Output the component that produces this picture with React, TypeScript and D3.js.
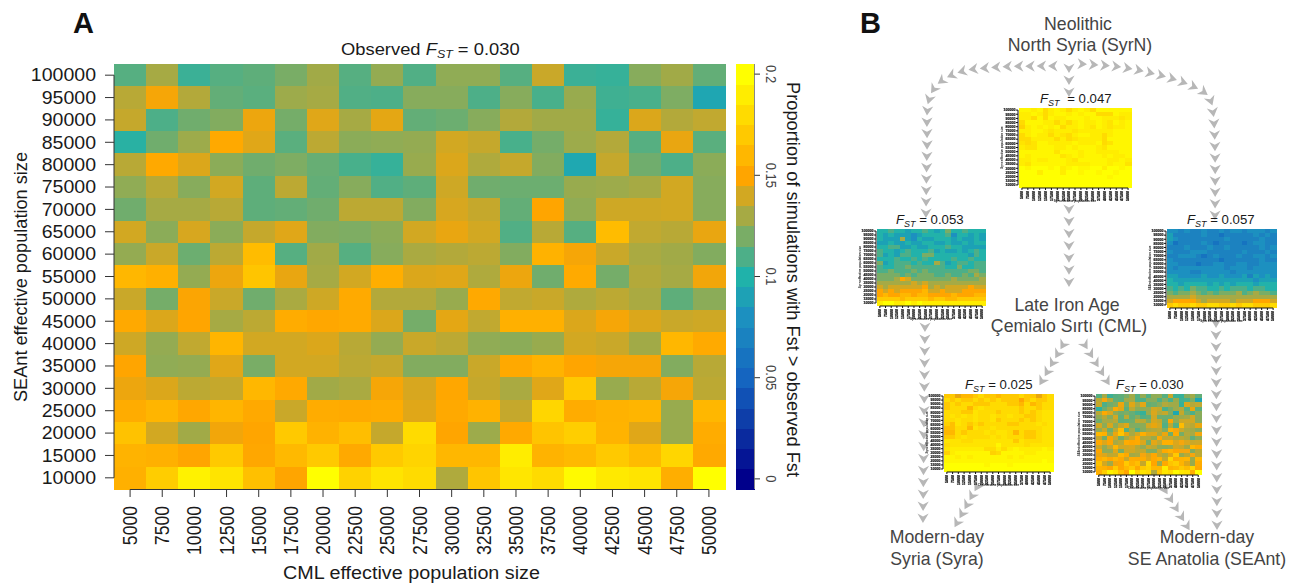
import React, { useEffect, useRef } from "react";
import * as d3 from "d3";

const FONT = "'Liberation Sans', Arial, sans-serif";

const cmlSizes = [5000, 7500, 10000, 12500, 15000, 17500, 20000, 22500, 25000, 27500, 30000, 32500, 35000, 37500, 40000, 42500, 45000, 47500, 50000];
const seantSizes = [100000, 95000, 90000, 85000, 80000, 75000, 70000, 65000, 60000, 55000, 50000, 45000, 40000, 35000, 30000, 25000, 20000, 15000, 10000];

// proportions in percent, rows from 100000 down to 10000
const observedSeant = [
  [11.2, 13, 10.6, 11.2, 11.4, 12, 12.9, 11.2, 12.6, 11.1, 12.5, 12.5, 11.2, 13.8, 10.6, 10.5, 12.3, 12.9, 11.5],
  [13.4, 14.8, 13.3, 11.5, 11.3, 12.8, 13, 11.1, 11, 12.3, 12.3, 11, 12.3, 10.9, 12.7, 10.7, 10.9, 12.1, 9.3],
  [13.7, 11, 11.8, 12.2, 14.6, 11.9, 14.3, 13, 14.4, 11.5, 11.7, 12.3, 13.3, 12.9, 12.9, 10.5, 14.2, 13.3, 13.6],
  [10.2, 11.8, 12.8, 15.2, 14.3, 11.3, 13.5, 12.4, 12.5, 12.6, 14, 13.7, 10.9, 11.9, 12.8, 13.3, 11.2, 14.5, 11.3],
  [13.4, 15.2, 14.2, 12.4, 11.8, 12.1, 11.6, 10.9, 10.5, 12.7, 14.2, 13.2, 13.7, 12.2, 9.4, 13.7, 11.8, 11, 12.4],
  [12.5, 13.4, 12.3, 14, 11.4, 13.5, 11.5, 12.3, 11.1, 11.4, 13.9, 11.8, 11.7, 11.7, 12.7, 12.8, 13, 14, 12.3],
  [11.8, 13, 13, 13.4, 11.4, 11.5, 11.8, 13.5, 13.5, 12.2, 14.1, 13.7, 11.5, 15, 12.5, 13.9, 13.9, 14, 12.3],
  [14, 12.4, 14.1, 12.4, 13.7, 14.3, 12.2, 12.1, 12.4, 14, 14.5, 14, 11.1, 13.4, 11.2, 16.3, 13.6, 13.4, 14.5],
  [12.6, 13.8, 11.7, 13.5, 16.3, 11.2, 12.9, 11.2, 12.3, 13.1, 13.3, 13.5, 12.2, 15.7, 14.8, 13.8, 13.1, 12.9, 12.2],
  [16, 15.6, 12.6, 14.6, 16.8, 14.5, 13, 14, 15.5, 14.2, 14.3, 13.2, 14.6, 11.8, 15.3, 11.9, 13.3, 13, 14.7],
  [13.8, 11.9, 14.9, 13.8, 11.8, 13.1, 13.9, 15.3, 13.3, 13.3, 12.7, 15.2, 13.6, 13.8, 13.2, 13.5, 13.1, 11.4, 12.4],
  [15.2, 14.2, 15, 13, 13.5, 15.4, 15.1, 15.3, 14.2, 11.9, 14.4, 13.6, 15.6, 15.6, 14.2, 14.8, 14.2, 13.8, 13.9],
  [13.9, 12.6, 13.6, 15.9, 14, 14, 14.2, 13.4, 12.6, 13.8, 13.5, 12.5, 12.4, 12.7, 14, 13.8, 12.9, 16, 15.3],
  [15, 12.5, 12.6, 14.3, 12, 14, 14, 13.5, 13.7, 12.2, 12.2, 13.8, 15.2, 15.8, 15, 14.8, 14.8, 12.2, 13.4],
  [14.6, 14.2, 13.5, 13.7, 16, 15.2, 12.9, 13.1, 14.8, 14.1, 15.1, 13.7, 13.1, 14.3, 17, 12.7, 13.4, 14.8, 13.5],
  [15.4, 15.9, 15.1, 15.9, 15.2, 13.8, 15.4, 15.3, 15.4, 14.3, 15.2, 15.7, 13.7, 17.7, 15.4, 15.7, 15.9, 12.7, 16],
  [16.6, 14, 12.9, 14.7, 15, 17, 15.7, 16.4, 13.7, 18, 15, 12.8, 15.2, 16.7, 17.3, 15.8, 14.3, 12.7, 15.4],
  [15.8, 15.6, 15, 17, 15.1, 16.1, 17, 15.2, 17, 17.6, 16, 16, 19, 15.8, 16.1, 17, 16.2, 17.7, 15.2],
  [15.6, 17.2, 19.3, 18.5, 16.5, 15, 20, 17.5, 18.5, 18, 13.2, 16.8, 18.6, 18, 19.7, 18.8, 18.5, 15.5, 20],
];

const observedSyrn = [
  [19.5, 19.5, 19, 19.5, 18, 19, 19.5, 19, 18, 19, 19.5, 19, 18, 19.5, 19.5, 19.5, 19.5, 19.5, 19.5],
  [19, 19, 19.5, 19, 18, 19, 19.5, 19.5, 19, 19.5, 19, 19.5, 19.5, 18, 18, 18, 19.5, 19, 19],
  [19, 19, 18, 19.5, 18, 19.5, 19, 19, 19.5, 19.5, 19.5, 19, 19.5, 19.5, 19, 19, 19, 18.5, 19],
  [18, 19.5, 19.5, 19.5, 19, 19, 18, 19, 18, 19, 19.5, 19, 19, 19.5, 19, 18.5, 19.5, 19, 19.5],
  [17.5, 19, 19.5, 19, 19.5, 19, 19.5, 18, 19, 19, 19.5, 19, 18.5, 19.5, 19, 18.5, 19, 19, 19.5],
  [19, 19, 19.5, 19.5, 19, 18.5, 19, 19, 19, 18.5, 19, 19, 19, 19, 19, 19, 19.5, 19.5, 19.5],
  [18, 19, 19.5, 19, 19, 18, 19, 18.5, 18, 19, 19.5, 19.5, 19, 19, 18, 19, 19.5, 19.5, 19.5],
  [18, 18, 19, 19, 19, 19, 18, 19, 18, 18.5, 19, 19, 19, 19, 18, 19.5, 19.5, 19.5, 19.5],
  [18.5, 18, 18.5, 19.5, 19.5, 19, 19, 19, 19, 19.5, 19, 19, 19, 19.5, 18, 18.5, 19.5, 19.5, 19.5],
  [19, 18.5, 18.5, 19.5, 19.5, 19.5, 19, 19, 19.5, 19, 19.5, 19.5, 19.5, 19, 18.5, 19.5, 19.5, 19.5, 19.5],
  [19.5, 19.5, 19.5, 19.5, 19.5, 19.5, 18.5, 19.5, 19.5, 19.5, 19, 19.5, 19.5, 19, 19, 19, 19, 19.5, 19.5],
  [19.5, 19, 19.5, 19.5, 19.5, 19.5, 19.5, 18.5, 19, 19.5, 19, 19.5, 19.5, 19.5, 19, 19.5, 19, 19, 19.5],
  [19, 19, 19.5, 19, 19, 19.5, 19.5, 19.5, 19, 18.5, 19.5, 19.5, 19.5, 19.5, 19.5, 19, 19, 19.5, 19],
  [19, 18.5, 19.5, 19.5, 19.5, 19.5, 19.5, 19.5, 19, 19, 19, 19, 19.5, 19.5, 19.5, 19, 19.5, 19.5, 18.5],
  [20, 19.5, 20, 20, 20, 19.5, 20, 19, 19.5, 20, 19.5, 19.5, 20, 20, 19, 20, 20, 19.5, 20],
  [20, 20, 20, 19, 20, 20, 20, 19, 20, 20, 19.5, 20, 20, 19.5, 20, 20, 19.5, 20, 20],
  [20, 20, 20, 20, 20, 20, 20, 20, 20, 20, 20, 20, 20, 20, 20, 19.5, 20, 20, 20],
  [20, 20, 20, 20, 20, 20, 20, 20, 20, 20, 20, 20, 20, 20, 20, 20, 20, 20, 20],
  [20, 20, 20, 20, 20, 20, 20, 20, 20, 20, 20, 20, 20, 20, 20, 20, 20, 20, 20],
];

const observedLeft = [
  [10, 10, 11, 10, 10, 9, 10, 10, 11, 10, 9, 10, 12, 10, 10, 11, 10, 10, 10],
  [10, 9, 10, 9, 9, 9, 8, 9, 10, 10, 10, 10, 11, 8, 10, 10, 9, 10, 9],
  [10, 9, 9, 9, 13, 9, 8, 10, 9, 9, 10, 10, 10, 9, 10, 9, 9, 10, 9],
  [9, 9, 10, 9, 9, 10, 9, 9, 10, 10, 9, 9, 10, 9, 9, 10, 9, 10, 10],
  [10, 10, 11, 11, 9, 9, 10, 9, 9, 10, 10, 10, 11, 10, 10, 9, 9, 9, 9],
  [11, 10, 10, 9, 10, 11, 10, 10, 10, 11, 9, 10, 9, 9, 10, 9, 10, 11, 10],
  [11, 9, 10, 9, 11, 11, 10, 10, 12, 12, 10, 10, 10, 10, 10, 10, 9, 11, 10],
  [10, 10, 10, 11, 10, 10, 11, 10, 11, 10, 10, 10, 10, 11, 10, 10, 11, 10, 10],
  [12, 9, 10, 11, 11, 11, 10, 11, 10, 10, 13, 11, 9, 10, 11, 11, 10, 11, 11],
  [11, 10, 10, 11, 11, 12, 11, 11, 11, 11, 11, 11, 10, 10, 12, 10, 10, 11, 11],
  [11, 11, 12, 11, 11, 11, 12, 11, 12, 11, 11, 11, 11, 11, 11, 11, 12, 12, 11],
  [12, 12, 12, 12, 11, 12, 11, 12, 12, 12, 11, 11, 12, 11, 11, 12, 11, 13, 12],
  [12, 12, 12, 13, 15, 14, 12, 12, 12, 12, 12, 12, 12, 13, 12, 12, 12, 12, 13],
  [13, 13, 13, 13, 13, 13, 14, 13, 14, 13, 13, 13, 13, 13, 13, 13, 13, 13, 13],
  [14, 13, 14, 14, 14, 14, 14, 14, 15, 13, 14, 13, 14, 14, 14, 14, 15, 14, 14],
  [15, 14, 15, 14, 15, 15, 15, 15, 16, 14, 14, 15, 14, 14, 14, 15, 15, 15, 15],
  [15, 16, 15, 15, 16, 16, 15, 16, 16, 15, 15, 15, 15, 16, 15, 15, 15, 16, 16],
  [17, 17, 17, 17, 16, 17, 17, 17, 17, 16, 17, 17, 16, 16, 17, 17, 17, 17, 17],
  [19, 20, 20, 19, 19, 20, 19, 20, 19, 19, 19, 19, 19, 19, 19, 19, 19, 19, 19],
];

const observedRight = [
  [8, 8, 7, 8, 7, 7, 8, 7, 7, 8, 7, 8, 8, 7, 8, 8, 8, 7, 8],
  [9, 7, 7, 7, 7, 7, 8, 7, 7, 6, 7, 7, 7, 7, 7, 8, 7, 8, 7],
  [9, 8, 7, 7, 7, 7, 7, 7, 7, 7, 8, 7, 7, 7, 7, 7, 8, 7, 7],
  [8, 6, 7, 7, 7, 7, 8, 7, 6, 7, 7, 7, 7, 6, 7, 8, 8, 7, 7],
  [7, 7, 7, 8, 7, 7, 7, 8, 7, 7, 8, 7, 7, 7, 7, 7, 8, 7, 8],
  [8, 7, 7, 7, 8, 8, 8, 7, 7, 7, 7, 7, 7, 8, 7, 7, 7, 8, 7],
  [7, 7, 8, 8, 8, 7, 6, 7, 8, 7, 7, 7, 8, 7, 7, 8, 8, 7, 8],
  [8, 7, 7, 7, 7, 7, 7, 7, 7, 6, 7, 7, 7, 7, 7, 7, 8, 7, 7],
  [8, 8, 7, 7, 7, 6, 7, 7, 8, 8, 7, 7, 8, 8, 7, 7, 8, 8, 8],
  [8, 7, 8, 8, 8, 8, 8, 8, 8, 8, 7, 8, 8, 8, 7, 8, 8, 8, 8],
  [8, 8, 8, 8, 7, 7, 8, 8, 8, 8, 8, 7, 8, 8, 8, 8, 8, 8, 8],
  [9, 9, 8, 8, 8, 8, 9, 8, 8, 9, 8, 8, 8, 9, 7, 9, 8, 9, 8],
  [10, 9, 9, 9, 9, 9, 9, 9, 9, 9, 9, 9, 9, 9, 9, 8, 9, 9, 9],
  [10, 10, 9, 10, 10, 10, 10, 9, 10, 9, 10, 9, 10, 10, 10, 9, 10, 10, 10],
  [11, 10, 11, 10, 12, 11, 11, 10, 10, 11, 10, 11, 11, 11, 10, 11, 11, 10, 10],
  [12, 11, 12, 12, 13, 12, 11, 12, 11, 12, 12, 12, 13, 11, 12, 13, 12, 12, 11],
  [13, 13, 13, 13, 14, 13, 13, 13, 13, 13, 13, 13, 13, 13, 13, 13, 13, 13, 13],
  [14, 15, 15, 15, 15, 14, 13, 14, 14, 14, 14, 13, 14, 14, 14, 15, 15, 15, 14],
  [17, 18, 17, 17, 18, 17, 17, 18, 18, 17, 17, 18, 17, 18, 18, 17, 17, 17, 18],
];

const observedSyra = [
  [17, 17, 14.5, 16, 16, 17, 18, 17, 17, 16, 17, 17, 17, 18, 17, 17, 14.5, 17, 18],
  [18, 17, 18, 17, 17, 18, 17, 18, 17, 18, 17, 17, 17, 15, 17, 18, 17, 17, 18],
  [17, 18, 17, 18, 18, 17, 17, 17, 18, 18, 18, 17, 17, 16, 18, 16, 17, 18, 18],
  [17, 18, 18, 18, 16, 18, 18.5, 18, 18, 18, 18, 18, 18, 17, 18, 18, 17, 18, 18],
  [18, 18, 18, 17, 17, 18.5, 18, 18, 18, 17, 18, 18, 18, 17, 18, 17, 18, 18.5, 18.5],
  [18, 18.5, 18, 18.5, 18, 18.5, 18, 18, 18.5, 18, 18, 18.5, 18, 18, 17, 17, 18, 18.5, 18.5],
  [18, 18, 18.5, 18, 18, 18.5, 18, 18, 18.5, 17, 18, 18, 18, 17, 18, 17, 18, 18.5, 18.5],
  [17.5, 16.5, 18.5, 18, 17, 18, 17, 18, 18, 18, 18, 17, 17, 18, 18, 18, 18.5, 18, 18.5],
  [16.5, 16.5, 18, 18, 16, 18.5, 18, 18, 18.5, 18, 18, 18, 18, 18, 18, 18, 18, 18.5, 18.5],
  [16, 16, 18, 17, 18, 18, 18, 18.5, 18, 18.5, 18.5, 18, 16, 18, 17, 17, 18, 18.5, 18.5],
  [17, 17, 18, 18.5, 18, 18, 18, 18, 18.5, 18, 18.5, 18, 18, 18, 17, 17, 18, 18.5, 18.5],
  [18.5, 18.5, 18.5, 18, 18, 18.5, 18.5, 18.5, 18.5, 18.5, 18.5, 18.5, 17, 18.5, 18, 18, 18, 18.5, 18.5],
  [18, 18.5, 18.5, 18.5, 18.5, 18.5, 18.5, 18.5, 18.5, 19.5, 18.5, 18.5, 18.5, 18.5, 18, 18.5, 18.5, 18.5, 18.5],
  [18.5, 19, 19, 19, 19, 19, 19, 18, 18, 19, 18, 19, 19.5, 19, 19, 19, 19, 19.5, 19],
  [17.5, 19, 19.5, 19.5, 19.5, 19.5, 19.5, 19.5, 17.5, 18, 19.5, 19.5, 19.5, 19.5, 19, 19, 19.5, 19.5, 19.5],
  [19.5, 19.5, 19, 19.5, 19, 19.5, 19.5, 19.5, 19.5, 19.5, 19.5, 19, 19.5, 19, 19.5, 19.5, 19.5, 19.5, 19.5],
  [19.5, 19.5, 19.5, 19.5, 19.5, 19.5, 19.5, 19.5, 19.5, 19.5, 19.5, 19.5, 19.5, 19.5, 19.5, 19.5, 19.5, 20, 19.5],
  [20, 20, 20, 20, 20, 20, 20, 19.5, 20, 20, 20, 19.5, 20, 20, 20, 20, 20, 20, 20],
  [20, 20, 20, 20, 20, 20, 20, 20, 20, 20, 20, 20, 20, 20, 20, 20, 20, 20, 20],
];

const legendLevels = d3.range(21); // one colour per 0.01
const legendTicks = [
  { level: 20, label: "0.2" },
  { level: 15, label: "0.15" },
  { level: 10, label: "0.1" },
  { level: 5, label: "0.05" },
  { level: 0, label: "0" },
];

const color = d3
  .scaleLinear<string>()
  .domain([0, 2, 5, 8, 10, 15, 20])
  .range(["#00008b", "#0a2a9e", "#1565c0", "#1c90c0", "#20b2aa", "#ffa500", "#ffff00"])
  .clamp(true);

// where the chevrons run in panel B
const arrowRoutes = [
  [[1053, 66], [1000, 67], [960, 72], [938, 84], [929, 100], [927, 150], [926, 213]],
  [[925, 327], [923, 518]],
  [[1082, 64], [1120, 67], [1155, 74], [1190, 85], [1208, 96], [1213, 112], [1215, 215]],
  [[1216, 323], [1217, 525]],
  [[1069, 68], [1069, 92]],
  [[1069, 209], [1069, 282]],
  [[1063, 345], [1042, 381]],
  [[1085, 345], [1107, 381]],
  [[977, 487], [957, 523]],
  [[1165, 490], [1187, 526]],
];
const arrowStep = 11.6;

const smallMaps = [
  { data: observedSyrn, x0: 1019, x1: 1131, y0: 108, y1: 187, xTitle: "Syrn effective population size", yTitle: "Syrn effective population size" },
  { data: observedLeft, x0: 877, x1: 985, y0: 229, y1: 305, xTitle: "Syra effective population size", yTitle: "Syrn effective population size" },
  { data: observedRight, x0: 1167, x1: 1276, y0: 229, y1: 307, xTitle: "Syrn effective population size", yTitle: "SEAnt effective population size" },
  { data: observedSyra, x0: 944, x1: 1053, y0: 394, y1: 471, xTitle: "Cml effective population size", yTitle: "Syra effective population size" },
  { data: observedSeant, x0: 1096, x1: 1201, y0: 394, y1: 474, xTitle: "Cml effective population size", yTitle: "SEAnt effective population size" },
];

const fstLabels = [
  { text: " = 0.047", x: 1040, y: 103, gap: 4 },
  { text: " = 0.053", x: 896, y: 224, gap: 0 },
  { text: " = 0.057", x: 1187, y: 224, gap: 0 },
  { text: " = 0.025", x: 965, y: 389, gap: 0 },
  { text: " = 0.030", x: 1116, y: 389, gap: 0 },
];

const nodeLabels = [
  { text: "Neolithic", x: 1078, y: 30 },
  { text: "North Syria (SyrN)", x: 1080, y: 51 },
  { text: "Late Iron Age", x: 1067, y: 311 },
  { text: "Çemialo Sırtı (CML)", x: 1069, y: 332 },
  { text: "Modern-day", x: 937, y: 543 },
  { text: "Syria (Syra)", x: 937, y: 565 },
  { text: "Modern-day", x: 1207, y: 543 },
  { text: "SE Anatolia (SEAnt)", x: 1207, y: 565 },
];

const Heatmap = ({ data, x, y }) => (
  <g shapeRendering="crispEdges">
    {data.map((row, i) =>
      row.map((v, j) => (
        <rect
          key={`${i}-${j}`}
          x={x(cmlSizes[j])}
          y={y(seantSizes[i])}
          width={x.bandwidth() + 0.5}
          height={y.bandwidth() + 0.5}
          fill={color(v)}
        />
      ))
    )}
  </g>
);

const SmallMap = ({ map }) => {
  const { data, x0, x1, y0, y1 } = map;
  const x = d3.scaleBand<number>().domain(cmlSizes).range([x0, x1]);
  const y = d3.scaleBand<number>().domain(seantSizes).range([y0, y1]);
  const xt = (d) => x(d) + x.bandwidth() / 2;
  const yt = (d) => y(d) + y.bandwidth() / 2;
  return (
    <g>
      <g filter="url(#softer)">
        <Heatmap data={data} x={x} y={y} />
      </g>
      <g filter="url(#soft)" fill="#111" stroke="none" fontFamily={FONT} fontWeight="bold" fontSize={3.6}>
        <path d={`M${x0 - 1},${yt(100000)}V${yt(10000)}`} stroke="#111" fill="none" />
        <path d={`M${xt(5000)},${y1 + 1}H${xt(50000)}`} stroke="#111" fill="none" />
        {seantSizes.map((d) => (
          <g key={d}>
            <path d={`M${x0 - 3},${yt(d)}H${x0 - 1}`} stroke="#111" />
            <text x={x0 - 3.5} y={yt(d) + 1.3} textAnchor="end" stroke="#111" strokeWidth={0.2}>{d}</text>
          </g>
        ))}
        {cmlSizes.map((d) => (
          <g key={d}>
            <path d={`M${xt(d)},${y1 + 1}V${y1 + 3}`} stroke="#111" />
            <text transform={`translate(${xt(d) + 1.3},${y1 + 4}) rotate(-90)`} textAnchor="end" stroke="#111" strokeWidth={0.2}>{d}</text>
          </g>
        ))}
        <text x={(x0 + x1) / 2} y={y1 + 15} textAnchor="middle" fontSize={3}>{map.xTitle}</text>
        <text transform={`translate(${x0 - 16},${(y0 + y1) / 2}) rotate(-90)`} textAnchor="middle" fontSize={3}>{map.yTitle}</text>
      </g>
    </g>
  );
};

const App = () => {
  const arrowsRef = useRef<SVGGElement>(null);

  useEffect(() => {
    const line = d3.line().curve(d3.curveCatmullRom.alpha(0.5));
    const heads: { x: number; y: number; a: number }[] = [];
    arrowRoutes.forEach((route) => {
      const p = document.createElementNS("http://www.w3.org/2000/svg", "path");
      p.setAttribute("d", line(route as [number, number][]));
      const len = p.getTotalLength();
      const n = Math.max(1, Math.round(len / arrowStep));
      for (let i = 0; i <= n; i++) {
        const l = (len * i) / n;
        const a = p.getPointAtLength(Math.max(0, l - 1));
        const b = p.getPointAtLength(Math.min(len, l + 1));
        const c = p.getPointAtLength(l);
        heads.push({ x: c.x, y: c.y, a: (Math.atan2(b.y - a.y, b.x - a.x) * 180) / Math.PI });
      }
    });
    d3.select(arrowsRef.current)
      .selectAll("path")
      .data(heads)
      .join("path")
      .attr("d", "M5,0L-4.5,-5.6L-1.6,0L-4.5,5.6Z")
      .attr("fill", "#b7b7b7")
      .attr("transform", (d) => `translate(${d.x},${d.y}) rotate(${d.a})`);
  }, []);

  const x = d3.scaleBand<number>().domain(cmlSizes).range([114, 725]);
  const y = d3.scaleBand<number>().domain(seantSizes).range([64, 489]);
  const legendY = d3.scaleBand<number>().domain([...legendLevels].reverse()).range([64, 489]);
  const xt = (d) => x(d) + x.bandwidth() / 2;
  const yt = (d) => y(d) + y.bandwidth() / 2;
  const lt = (d) => legendY(d) + legendY.bandwidth() / 2;

  return (
    <svg
      width={1299}
      height={585}
      style={{ position: "absolute", left: 0, top: 0, display: "block", background: "#fff" }}
      fontFamily={FONT}
    >
      <defs>
        <filter id="soft" x="-20%" y="-20%" width="140%" height="140%">
          <feGaussianBlur stdDeviation="0.3" />
        </filter>
        <filter id="softer" x="-5%" y="-5%" width="110%" height="110%">
          <feGaussianBlur stdDeviation="0.55" />
        </filter>
      </defs>

      <text x={73} y={33} fontSize={29} fontWeight="bold" fill="#111">A</text>
      <text x={860} y={33} fontSize={29} fontWeight="bold" fill="#111">B</text>

      {/* panel A */}
      <text transform="translate(341,55) scale(1.08,1)" fontSize={17} fill="#1a1a1a">
        Observed <tspan fontStyle="italic">F</tspan>
        <tspan fontStyle="italic" fontSize={11.5} dy={3}>ST</tspan>
        <tspan dy={-3}> = 0.030</tspan>
      </text>
      <Heatmap data={observedSeant} x={x} y={y} />
      <g stroke="#333" fill="none">
        <path d={`M114,${yt(100000)}V${yt(10000)}`} />
        <path d={`M${xt(5000)},489.5H${xt(50000)}`} />
        {seantSizes.map((d) => (
          <path key={d} d={`M105,${yt(d)}H114`} />
        ))}
        {cmlSizes.map((d) => (
          <path key={d} d={`M${xt(d)},489.5V497`} />
        ))}
      </g>
      <g fontSize={17.6} fill="#1a1a1a">
        {seantSizes.map((d) => (
          <text key={d} transform={`translate(96,${yt(d) + 6.3}) scale(1.11,1)`} textAnchor="end">{d}</text>
        ))}
        {cmlSizes.map((d) => (
          <text key={d} transform={`translate(${xt(d) + 7},506) scale(1.11,1) rotate(-90)`} textAnchor="end">{d}</text>
        ))}
      </g>
      <text x={283} y={579} fontSize={17.6} fill="#1a1a1a" textLength={257} lengthAdjust="spacingAndGlyphs">CML effective population size</text>
      <text transform="translate(27,402) rotate(-90)" fontSize={17.6} fill="#1a1a1a" textLength={250} lengthAdjust="spacingAndGlyphs">SEAnt effective population size</text>

      {/* legend */}
      <g shapeRendering="crispEdges">
        {legendLevels.map((d) => (
          <rect key={d} x={736} y={legendY(d)} width={18.5} height={legendY.bandwidth() + 0.5} fill={color(d)} />
        ))}
      </g>
      <path d={`M754.5,64V489`} stroke="#888" fill="none" />
      {legendTicks.map((d) => (
        <g key={d.label}>
          <path d={`M754.5,${lt(d.level)}H760`} stroke="#333" />
          <text transform={`translate(766,${lt(d.level)}) scale(1.11,1) rotate(90)`} textAnchor="middle" fontSize={13} fill="#444">{d.label}</text>
        </g>
      ))}
      <text transform="translate(787,82) rotate(90)" fontSize={17.6} fill="#1a1a1a" textLength={395} lengthAdjust="spacingAndGlyphs">
        Proportion of simulations with Fst &gt; observed Fst
      </text>

      {/* panel B */}
      <g ref={arrowsRef} />
      {smallMaps.map((m) => (
        <SmallMap key={m.x0} map={m} />
      ))}
      {fstLabels.map((d) => (
        <text key={d.text} x={d.x} y={d.y} fontSize={13.2} fill="#1a1a1a">
          <tspan fontStyle="italic">F</tspan>
          <tspan fontStyle="italic" fontSize={9} dy={3}>ST</tspan>
          <tspan dy={-3} dx={d.gap}>{d.text}</tspan>
        </text>
      ))}
      {nodeLabels.map((d) => (
        <text key={d.text + d.x} x={d.x} y={d.y} textAnchor="middle" fontSize={17.7} fill="#444">{d.text}</text>
      ))}
    </svg>
  );
};

export default App;
